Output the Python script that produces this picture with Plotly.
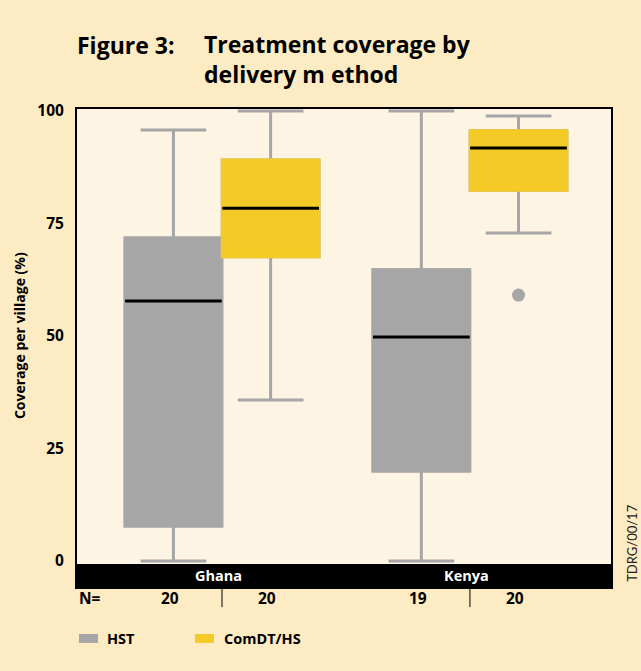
import plotly.graph_objects as go

# ---- data ----
countries = ["Ghana", "Kenya"]
series_names = ["HST", "ComDT/HS"]
hst_lower = [0, 0]
hst_q1 = [7.8, 20.0]
hst_median = [57.8, 49.8]
hst_q3 = [71.8, 64.7]
hst_upper = [95.8, 100.0]
com_lower = [35.8, 72.9]
com_q1 = [67.6, 82.4]
com_median = [78.4, 91.8]
com_q3 = [89.1, 95.6]
com_upper = [100.0, 98.9]
com_outlier_x = ["Kenya"]
com_outlier_y = [59.1]
n_hst = [20, 19]
n_com = [20, 20]
y_ticks = [0, 25, 50, 75, 100]

# ---- styles ----
GRAY = "#A6A6A6"
YELLOW = "#F4CA26"
OUTER_BG = "#FDEBC3"
INNER_BG = "#FEF4E3"
FONT = "Open Sans"
BOX_W = 0.39
OFFSETS = {"HST": -0.196, "ComDT/HS": 0.196}

grp_pos = {c: i for i, c in enumerate(countries)}

fig = go.Figure()

def add_series(name, lower, q1, med, q3, upper, color):
    xs = [grp_pos[c] + OFFSETS[name] for c in countries]
    # whiskers + box (gray lines)
    fig.add_trace(go.Box(x=xs, q1=q1, median=med, q3=q3, lowerfence=lower, upperfence=upper,
                         width=BOX_W, whiskerwidth=0.68, fillcolor=color,
                         line=dict(color=GRAY, width=3), boxpoints=False,
                         hoverinfo="skip", showlegend=False, name=name))
    # box body without gray outline
    fig.add_trace(go.Box(x=xs, q1=q1, median=med, q3=q3, lowerfence=q1, upperfence=q3,
                         width=BOX_W, whiskerwidth=0, fillcolor=color,
                         line=dict(color=color, width=3), boxpoints=False,
                         hoverinfo="skip", showlegend=False, name=name))
    # black median line
    fig.add_trace(go.Box(x=xs, q1=med, median=med, q3=med, lowerfence=med, upperfence=med,
                         width=BOX_W, whiskerwidth=0, fillcolor="black",
                         line=dict(color="black", width=3), boxpoints=False,
                         hoverinfo="skip", showlegend=False, name=name))

add_series("HST", hst_lower, hst_q1, hst_median, hst_q3, hst_upper, GRAY)
add_series("ComDT/HS", com_lower, com_q1, com_median, com_q3, com_upper, YELLOW)

fig.add_trace(go.Scatter(x=[grp_pos[c] + OFFSETS["ComDT/HS"] for c in com_outlier_x], y=com_outlier_y,
                         mode="markers", marker=dict(color=GRAY, size=13),
                         hoverinfo="skip", showlegend=False))

# ---- layout ----
annotations = []
shapes = []

# black band with country names
shapes.append(dict(type="rect", xref="paper", yref="paper", x0=0, x1=1, y0=0, y1=0.048,
                   fillcolor="black", line=dict(width=0), layer="above"))
for c in countries:
    annotations.append(dict(x=grp_pos[c] - 0.015, y=0.024, xref="x", yref="paper", text="<b>%s</b>" % c,
                            showarrow=False, font=dict(family=FONT, size=14.5, color="white"),
                            xanchor="center", yanchor="middle"))

# N= row
annotations.append(dict(x=0, y=-0.023, xref="paper", yref="paper", text="<b>N=</b>", showarrow=False,
                        font=dict(family=FONT, size=15.5, color="black"), xanchor="left", yanchor="middle"))
for i, c in enumerate(countries):
    for name, ns in (("HST", n_hst), ("ComDT/HS", n_com)):
        annotations.append(dict(x=grp_pos[c] + OFFSETS[name] - 0.015, y=-0.023, xref="x", yref="paper",
                                text="<b>%d</b>" % ns[i], showarrow=False,
                                font=dict(family=FONT, size=15.5, color="black"),
                                xanchor="center", yanchor="middle"))
    shapes.append(dict(type="line", xref="x", yref="paper", x0=grp_pos[c], x1=grp_pos[c],
                       y0=0, y1=-0.042, line=dict(color="black", width=1)))

# legend
leg = [("HST", GRAY, 0.0037, 0.0524), ("ComDT/HS", YELLOW, 0.221, 0.2715)]
for name, col, x0, xt in leg:
    shapes.append(dict(type="rect", xref="paper", yref="paper", x0=x0, x1=x0 + 0.0356,
                       y0=-0.117, y1=-0.0983, fillcolor=col, line=dict(width=0)))
    annotations.append(dict(x=xt, y=-0.1077, xref="paper", yref="paper", text="<b>%s</b>" % name,
                            showarrow=False, font=dict(family=FONT, size=14.5, color="black"),
                            xanchor="left", yanchor="middle"))

# titles
annotations.append(dict(x=-0.004, y=1.134, xref="paper", yref="paper", text="<b>Figure 3:</b>",
                        showarrow=False, font=dict(family=FONT, size=23, color="black"),
                        xanchor="left", yanchor="middle"))
annotations.append(dict(x=0.234, y=1.1046, xref="paper", yref="paper",
                        text="<b>Treatment coverage by</b><br><b>delivery m ethod</b>",
                        showarrow=False, align="left", font=dict(family=FONT, size=23, color="black"),
                        xanchor="left", yanchor="middle"))
annotations.append(dict(x=-0.1086, y=0.525, xref="paper", yref="paper",
                        text="<b>Coverage per village (%)</b>", textangle=-90, showarrow=False,
                        font=dict(family=FONT, size=14, color="black"),
                        xanchor="center", yanchor="middle"))
annotations.append(dict(x=1.039, y=0.092, xref="paper", yref="paper", text="TDRG/00/17",
                        textangle=-90, showarrow=False, font=dict(family="Lato", size=13, color="#222222"),
                        xanchor="center", yanchor="middle"))

fig.update_layout(
    width=641, height=671,
    margin=dict(l=77, r=30, t=109, b=84),
    paper_bgcolor=OUTER_BG, plot_bgcolor=INNER_BG,
    boxmode="overlay",
    showlegend=False,
    xaxis=dict(range=[-0.585, 1.569], showgrid=False, zeroline=False, showticklabels=False,
               ticks="", showline=True, mirror=True, linecolor="black", linewidth=2, fixedrange=True),
    yaxis=dict(range=[-5.78, 100.44], tickvals=y_ticks, ticktext=[str(v) for v in y_ticks],
               showgrid=False, zeroline=False, ticks="", ticklabelstandoff=8,
               tickfont=dict(family=FONT, size=15.5, color="black", weight="bold"),
               showline=True, mirror=True, linecolor="black", linewidth=2, fixedrange=True),
    annotations=annotations, shapes=shapes,
)

fig.write_html("out.html", config={"displayModeBar": False},
               post_script="document.body.style.margin='0';")
